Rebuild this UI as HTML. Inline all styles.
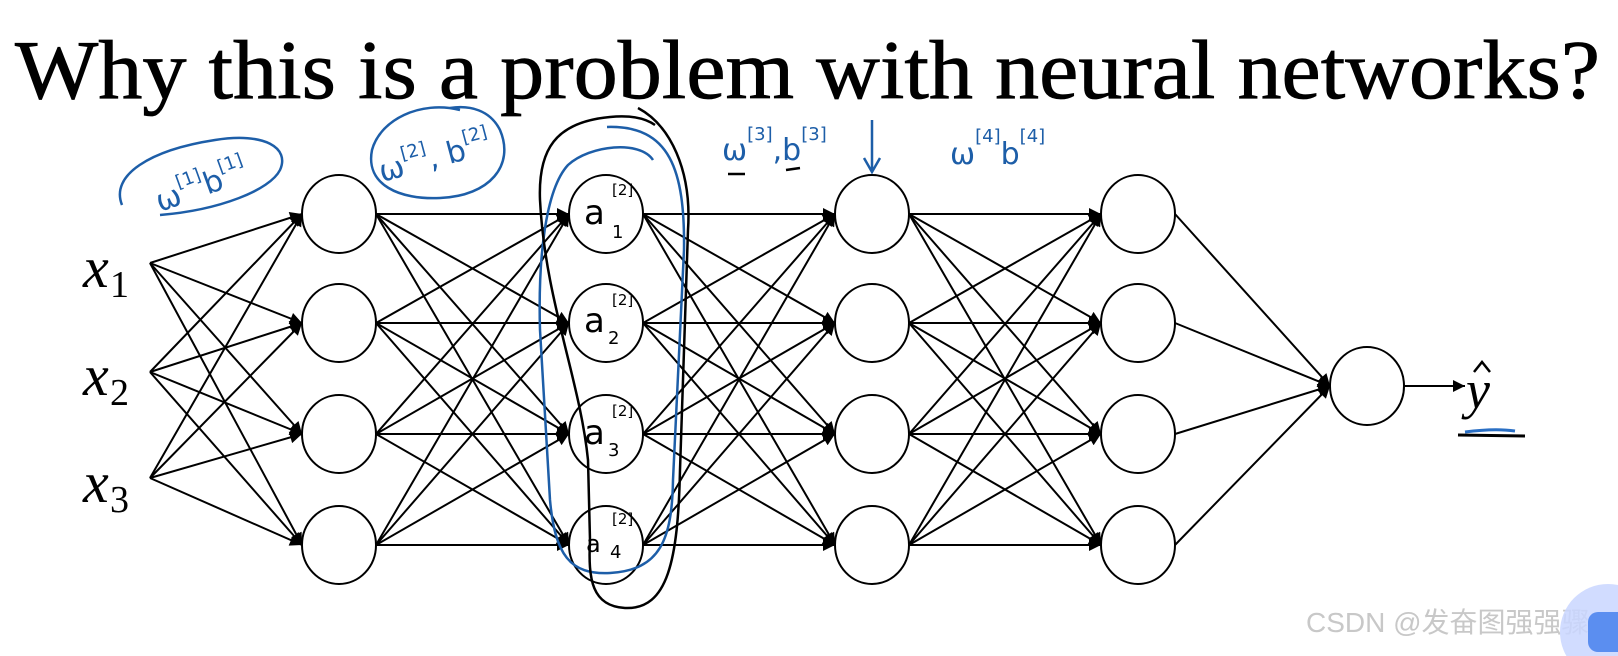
<!DOCTYPE html>
<html><head><meta charset="utf-8"><style>
html,body{margin:0;padding:0;background:#fff;}
svg{display:block;}
</style></head><body>
<svg width="1618" height="656" viewBox="0 0 1618 656" xmlns="http://www.w3.org/2000/svg">
<defs>
<marker id="ah" viewBox="0 0 10 10" refX="10" refY="5" markerWidth="14" markerHeight="12" markerUnits="userSpaceOnUse" orient="auto">
<path d="M0,0 L10,5 L0,10 z" fill="#000"/>
</marker>
</defs>
<rect width="1618" height="656" fill="#fff"/>
<text x="15" y="98" font-family="Liberation Serif, serif" font-size="84" textLength="1585" lengthAdjust="spacingAndGlyphs" fill="#000" stroke="#000" stroke-width="0.8">Why this is a problem with neural networks?</text>

<g stroke="#000" stroke-width="2" fill="none" marker-end="url(#ah)" id="edges"></g>
<g id="nodes" stroke="#000" stroke-width="2" fill="#fff"></g>

<g font-family="Liberation Serif, serif" font-style="italic" fill="#000">
<text x="83" y="287" font-size="58">x</text><text x="110" y="297" font-size="38" font-style="normal">1</text>
<text x="83" y="395" font-size="58">x</text><text x="110" y="405" font-size="38" font-style="normal">2</text>
<text x="83" y="502" font-size="58">x</text><text x="110" y="512" font-size="38" font-style="normal">3</text>
<text x="1466" y="408" font-size="54">y</text>
</g>
<path d="M1474 372 L1482 362 L1490 372" stroke="#000" stroke-width="2.5" fill="none"/>
<path d="M1458 435 L1525 436" stroke="#000" stroke-width="3"/>
<path d="M1465 432 Q1495 428 1515 431" stroke="#2a6fc4" stroke-width="3" fill="none"/>

<g stroke="#1d5ea8" stroke-width="2.5" fill="none">
<path d="M122 205 C110 175,150 150,215 140 C265 132,290 148,280 170 C270 190,220 210,160 215"/>
<path d="M460 110 C420 100,380 120,372 150 C365 185,400 200,440 198 C490 196,515 165,500 130 C490 110,470 105,450 108"/>
<path d="M653 160 C640 140,590 145,568 165 C545 190,538 260,540 330 L550 500 C555 555,570 575,610 573 C660 570,672 540,673 480 L684 250 C685 170,670 125,607 127"/>
<path d="M872 120 L872 170 M864 158 L872 172 L880 158"/>
</g>
<g font-family="DejaVu Sans, sans-serif" fill="#1d5ea8" font-size="30">
<text x="160" y="212" transform="rotate(-20 160 212)">ω<tspan font-size="18" dy="-16">[1]</tspan><tspan dy="16">b</tspan><tspan font-size="18" dy="-16">[1]</tspan></text>
<text x="382" y="182" transform="rotate(-15 382 182)">ω<tspan font-size="18" dy="-16">[2]</tspan><tspan dy="16">, b</tspan><tspan font-size="18" dy="-16">[2]</tspan></text>
<text x="722" y="160">ω<tspan font-size="18" dy="-20">[3]</tspan><tspan dy="20">,b</tspan><tspan font-size="18" dy="-20">[3]</tspan></text>
<text x="950" y="164">ω<tspan font-size="18" dy="-22">[4]</tspan><tspan dy="22">b</tspan><tspan font-size="18" dy="-22">[4]</tspan></text>
</g>
<path d="M728 174 L745 174 M786 170 L800 168" stroke="#000" stroke-width="2.5"/>

<path d="M638 108 C670 125,692 170,688 230 L680 470 C678 560,668 610,625 608 C592 606,588 580,590 540 L588 460 C580 380,545 300,540 200 C538 150,555 122,610 117 C630 115,645 118,655 125" stroke="#000" stroke-width="2.5" fill="none"/>

<text x="1306" y="632" font-family="Liberation Sans, Noto Sans CJK SC, sans-serif" font-size="28" fill="#c8c8c8">CSDN @发奋图强强骤</text>
<circle cx="1608" cy="632" r="48" fill="#c9d6ff" opacity="0.85"/>
<rect x="1588" y="612" width="40" height="40" rx="10" fill="#5b8ef0"/>

<script>
var ns="http://www.w3.org/2000/svg";
var xs=[339,606,872,1138], ys=[214,323,434,545], r=37;
var E=document.getElementById('edges'), N=document.getElementById('nodes');
function line(x1,y1,x2,y2){var l=document.createElementNS(ns,'line');l.setAttribute('x1',x1);l.setAttribute('y1',y1);l.setAttribute('x2',x2);l.setAttribute('y2',y2);E.appendChild(l);}
var inY=[263,372,478];
inY.forEach(function(a){ys.forEach(function(b){line(150,a,xs[0]-r,b);});});
for(var i=0;i<3;i++){ys.forEach(function(a){ys.forEach(function(b){line(xs[i]+r,a,xs[i+1]-r,b);});});}
ys.forEach(function(a){line(xs[3]+r,a,1330,386);});
line(1404,386,1465,386);
xs.forEach(function(x){ys.forEach(function(y){var c=document.createElementNS(ns,'ellipse');c.setAttribute('cx',x);c.setAttribute('cy',y);c.setAttribute('rx',r);c.setAttribute('ry',39);N.appendChild(c);});});
var c=document.createElementNS(ns,'ellipse');c.setAttribute('cx',1367);c.setAttribute('cy',386);c.setAttribute('rx',37);c.setAttribute('ry',39);N.appendChild(c);
</script>
<g font-family="DejaVu Sans, sans-serif" fill="#000" font-size="34">
<text x="584" y="224">a</text><text x="612" y="195" font-size="15">[2]</text><text x="612" y="238" font-size="18">1</text>
<text x="584" y="332">a</text><text x="612" y="305" font-size="15">[2]</text><text x="608" y="344" font-size="18">2</text>
<text x="584" y="444">a</text><text x="612" y="416" font-size="15">[2]</text><text x="608" y="456" font-size="18">3</text>
<text x="586" y="552" font-size="24">a</text><text x="612" y="524" font-size="15">[2]</text><text x="610" y="558" font-size="18">4</text>
</g>
</svg>
</body></html>
